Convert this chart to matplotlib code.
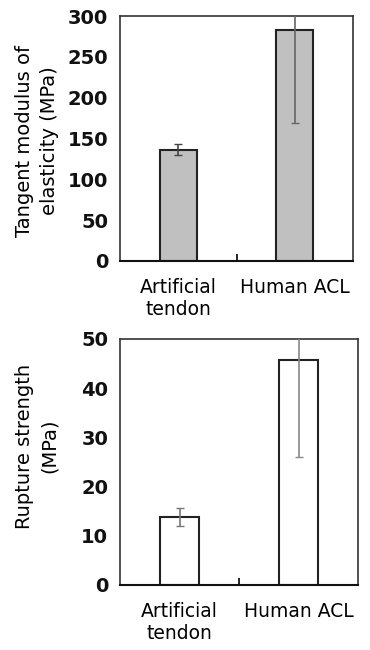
import numpy as np
import matplotlib.pyplot as plt

categories = ['Artificial\ntendon', 'Human ACL']
modulus = [136, 283]
modulus_lo = [130, 169]
modulus_hi = [143, 330]
strength = [13.8, 45.7]
strength_lo = [12.0, 26.0]
strength_hi = [15.7, 60.0]

fig = plt.figure(figsize=(3.7, 6.5), dpi=100)
ax1 = fig.add_axes([120/370, 1 - 261/650, 233/370, 245/650])
ax2 = fig.add_axes([120/370, 1 - 585/650, 238/370, 246/650])

x = np.array([0.5, 1.5])


def draw(ax, vals, lo, hi, face, ecols, ylim, yticks):
    ax.bar(x, vals, width=0.32, color=face, edgecolor='#222222', linewidth=1.5, zorder=2)
    for i in range(len(x)):
        ax.errorbar(x[i], vals[i], yerr=[[vals[i] - lo[i]], [hi[i] - vals[i]]],
                    fmt='none', ecolor=ecols[i], elinewidth=1.2, capsize=3, zorder=3)
    ax.set_xlim(0, 2)
    ax.set_ylim(*ylim)
    ax.set_yticks(yticks)
    ax.set_yticklabels([str(t) for t in yticks], fontsize=14, fontweight='bold', color='#111111')
    ax.tick_params(axis='y', length=0, pad=8.5)
    ax.set_xticks(x)
    ax.set_xticklabels(categories, fontsize=13.5, va='top', linespacing=1.25)
    ax.tick_params(axis='x', length=0, pad=12)
    ax.set_xticks([1.0], minor=True)
    ax.tick_params(axis='x', which='minor', direction='in', length=5, width=1.2)
    for s in ax.spines.values():
        s.set_linewidth(1.2)
        s.set_color('#333333')
    ax.spines['bottom'].set_linewidth(1.5)
    ax.spines['bottom'].set_color('#111111')


draw(ax1, modulus, modulus_lo, modulus_hi, '#c0c0c0', ['#444444', '#666666'],
     (0, 300), [0, 50, 100, 150, 200, 250, 300])
draw(ax2, strength, strength_lo, strength_hi, 'white', ['#777777', '#888888'],
     (0, 50), [0, 10, 20, 30, 40, 50])

fig.text(37/370, 1 - 141/650, 'Tangent modulus of\nelasticity (MPa)', rotation=90,
         ha='center', va='center', fontsize=14, linespacing=1.35, multialignment='center')
fig.text(37/370, 1 - 446/650, 'Rupture strength\n(MPa)', rotation=90,
         ha='center', va='center', fontsize=14, linespacing=1.35, multialignment='center')

plt.savefig('out.png', dpi=100)
